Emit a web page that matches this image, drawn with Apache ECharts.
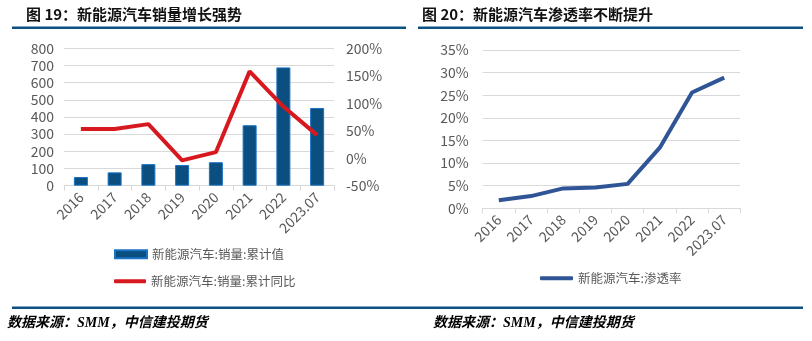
<!DOCTYPE html>
<html><head><meta charset="utf-8">
<script src="https://cdn.jsdelivr.net/npm/echarts@6/dist/echarts.min.js"></script>
<style>html,body{margin:0;padding:0;background:#fff}#c{width:812px;height:341px}</style>
</head><body><div id="c"></div>
<script>
const categories = ['2016','2017','2018','2019','2020','2021','2022','2023.07'];
const salesCum = [50.7, 77.7, 125.6, 120.6, 136.7, 352.1, 688.7, 452.6];
const salesYoY = [53, 53, 62, -4, 11, 158, 94, 42];
const penetration = [1.8, 2.7, 4.4, 4.6, 5.4, 13.4, 25.6, 28.9];
const leftTicksMax = 800, rightPctMin = -50, rightPctMax = 200;

const FONT = '"Noto Sans CJK SC", "Open Sans", sans-serif';
const GREY = '#595959';
const chart = echarts.init(document.getElementById('c'), null, {renderer:'canvas'});

const axisLabel = {color: GREY, fontSize: 14, fontFamily: FONT};
const catAxis = (gi) => ({
  type:'category', gridIndex: gi, data: categories, boundaryGap: true,
  axisLine:{show:true, lineStyle:{color:'#d9d9d9', width:1}},
  axisTick:{show:true, length:5, lineStyle:{color:'#d9d9d9'}},
  axisLabel: Object.assign({rotate:45, margin:9, interval:0}, axisLabel)
});
const legendText = {color:GREY, fontSize:12.5, fontFamily:FONT};

chart.setOption({
  animation:false,
  textStyle:{fontFamily: FONT},
  title:[
    {text:'图 19：新能源汽车销量增长强势', left:21, top:2, textStyle:{fontSize:15, fontWeight:'bold', color:'#111', fontFamily:'"Noto Sans CJK SC", sans-serif'}},
    {text:'图 20：新能源汽车渗透率不断提升', left:417, top:2, textStyle:{fontSize:15, fontWeight:'bold', color:'#111', fontFamily:'"Noto Sans CJK SC", sans-serif'}},
    {text:'数据来源：SMM，中信建投期货', left:2, top:311, textStyle:{fontSize:14, fontWeight:'bold', fontStyle:'italic', color:'#000', fontFamily:'"Liberation Serif", "Noto Sans CJK SC", serif'}},
    {text:'数据来源：SMM，中信建投期货', left:428, top:311, textStyle:{fontSize:14, fontWeight:'bold', fontStyle:'italic', color:'#000', fontFamily:'"Liberation Serif", "Noto Sans CJK SC", serif'}}
  ],
  graphic:[
    {type:'rect', shape:{x:12, y:26.5, width:394, height:2.5}, style:{fill:'#0b5186'}},
    {type:'rect', shape:{x:418, y:26.5, width:385, height:2.5}, style:{fill:'#0b5186'}},
    {type:'rect', shape:{x:12, y:306.5, width:791, height:2.5}, style:{fill:'#0b5186'}}
  ],
  legend:[
    {orient:'vertical', left:114, top:248, padding:0, itemWidth:32, itemHeight:8,
     data:[{name:'新能源汽车:销量:累计值', icon:'rect'}], textStyle:legendText},
    {orient:'vertical', left:114, top:275, padding:0, itemWidth:32, itemHeight:4,
     data:[{name:'新能源汽车:销量:累计同比', icon:'roundRect'}], textStyle:legendText},
    {orient:'vertical', left:540, top:272, padding:0, itemWidth:33, itemHeight:4,
     data:[{name:'新能源汽车:渗透率', icon:'roundRect'}], textStyle:legendText}
  ],
  grid:[
    {left:64, right:478, top:48.3, bottom:155.3},
    {left:482.7, right:71.7, top:50, bottom:132.7}
  ],
  xAxis:[catAxis(0), catAxis(1)],
  yAxis:[
    {type:'value', gridIndex:0, min:0, max:leftTicksMax, interval:100,
     axisLine:{show:false}, axisTick:{show:false},
     splitLine:{lineStyle:{color:'#d9d9d9'}}, axisLabel: Object.assign({margin:10}, axisLabel)},
    {type:'value', gridIndex:0, min:rightPctMin, max:rightPctMax, interval:50, position:'right',
     axisLine:{show:false}, axisTick:{show:false}, splitLine:{show:false},
     axisLabel: Object.assign({margin:12, formatter:'{value}%'}, axisLabel)},
    {type:'value', gridIndex:1, min:0, max:35, interval:5,
     axisLine:{show:false}, axisTick:{show:false},
     splitLine:{lineStyle:{color:'#d9d9d9'}}, axisLabel: Object.assign({margin:14, formatter:'{value}%'}, axisLabel)}
  ],
  series:[
    {name:'新能源汽车:销量:累计值', type:'bar', xAxisIndex:0, yAxisIndex:0, data:salesCum,
     barWidth:14, itemStyle:{color:'#0b4f80', borderColor:'#1a73c4', borderWidth:1}},
    {name:'新能源汽车:销量:累计同比', type:'line', xAxisIndex:0, yAxisIndex:1, data:salesYoY,
     symbol:'none', lineStyle:{color:'#d7191f', width:4}, itemStyle:{color:'#d7191f'}},
    {name:'新能源汽车:渗透率', type:'line', xAxisIndex:1, yAxisIndex:2, data:penetration,
     symbol:'none', lineStyle:{color:'#2f5597', width:4}, itemStyle:{color:'#2f5597'}}
  ]
});
</script></body></html>
